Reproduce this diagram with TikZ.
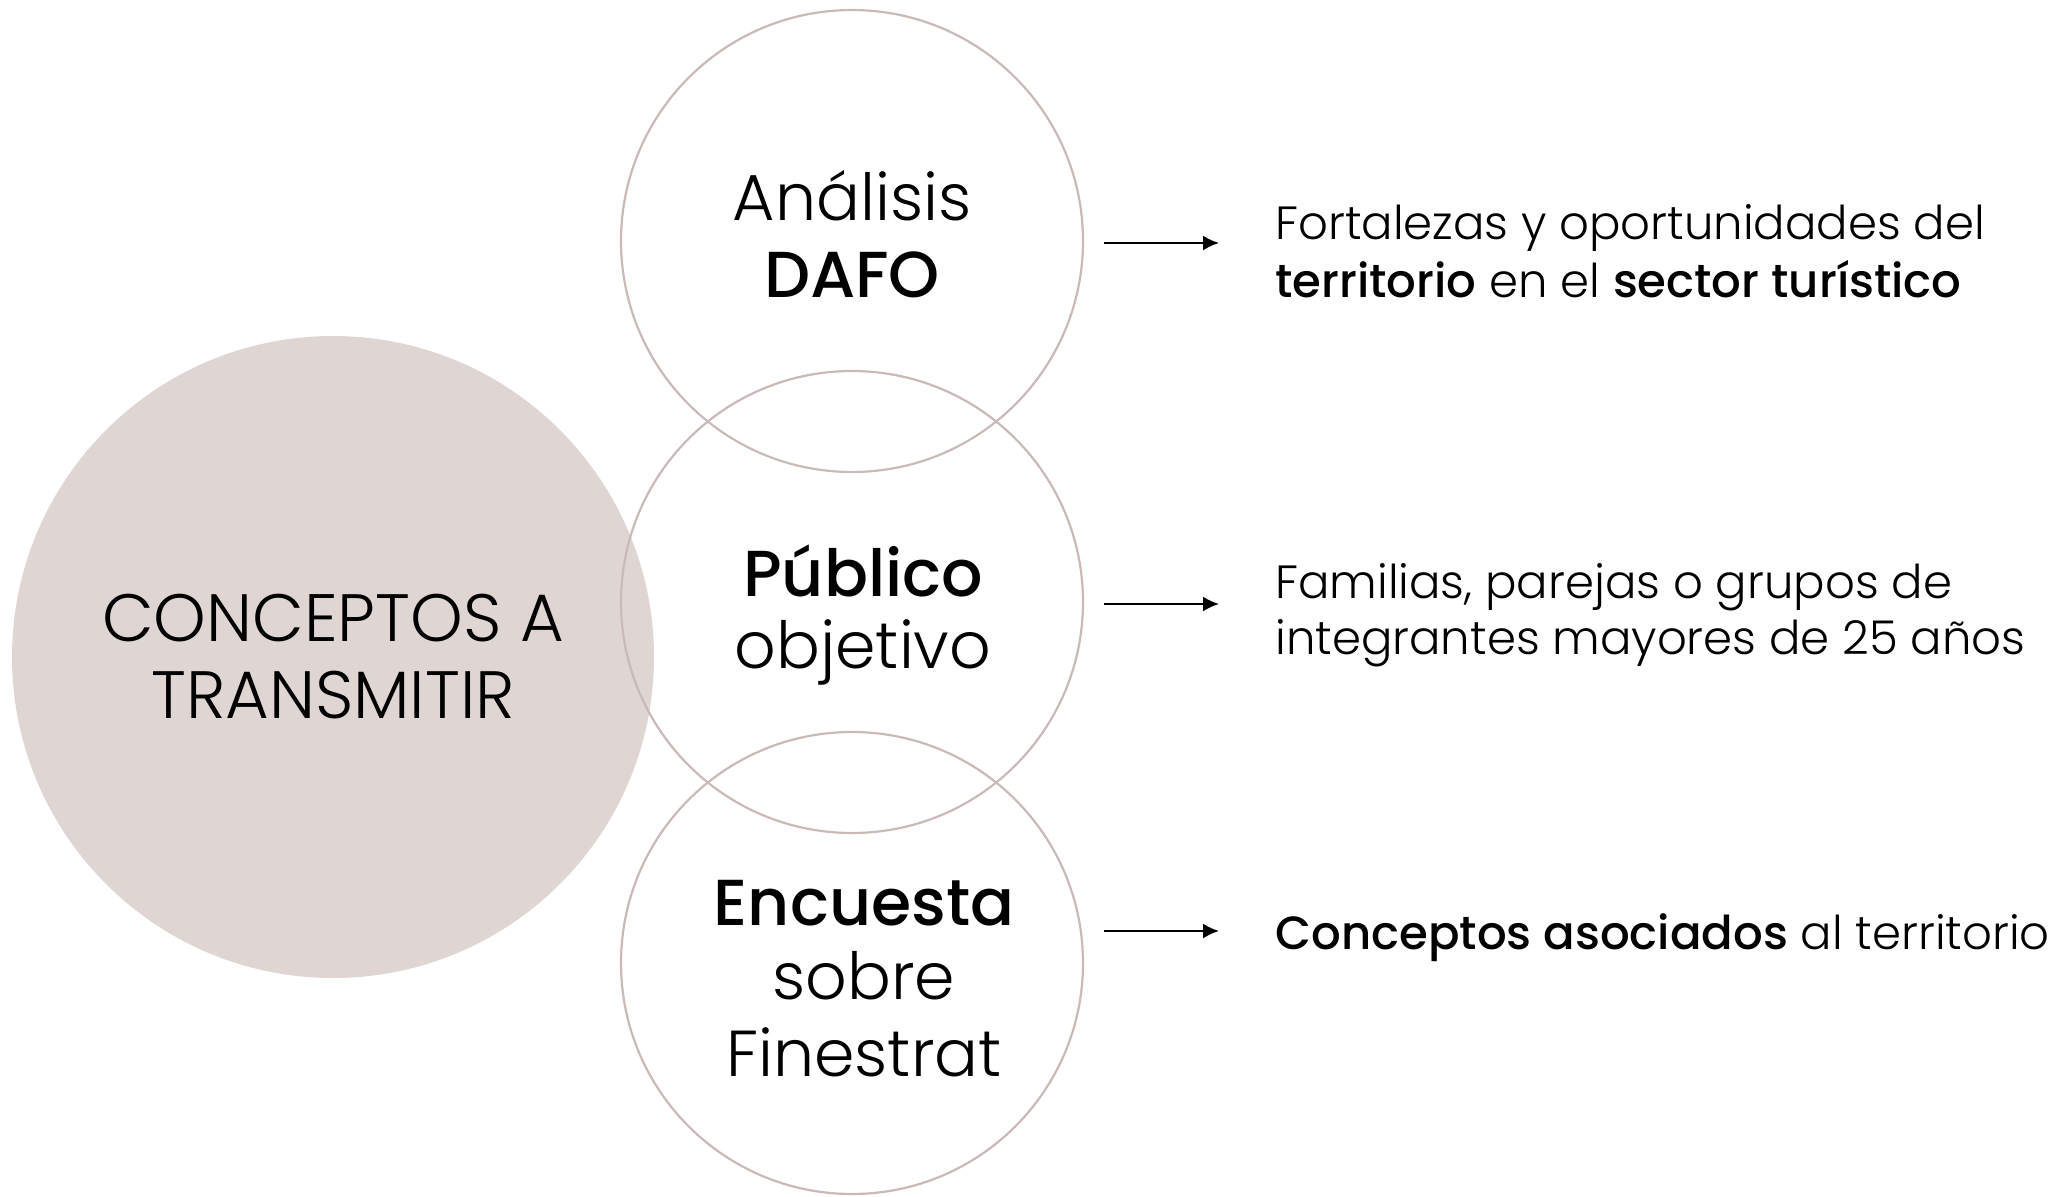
\documentclass[tikz,border=0pt]{standalone}
\usepackage{fontspec}
\setmainfont{Poppins}[UprightFont=* Light, BoldFont=* Medium]
\usetikzlibrary{arrows.meta}
\definecolor{fillc}{HTML}{DFD6D4}
\definecolor{linec}{HTML}{C9BAB7}
\tikzset{
  bigc/.style={circle, fill=fillc, draw=none, minimum size=321pt, inner sep=0pt},
  ringc/.style={circle, draw=linec, line width=1.1pt, minimum size=231pt, inner sep=0pt},
  ctext/.style={anchor=base, font=\fontsize{32.5}{40}\selectfont, inner sep=0pt},
  btext/.style={anchor=base, font=\fontsize{33.5}{40}\selectfont, inner sep=0pt},
  rtext/.style={anchor=base west, font=\fontsize{23.3}{30}\selectfont, inner sep=0pt},
  arr/.style={-{Latex[length=8pt,width=7.5pt]}, line width=1pt, black},
}
\begin{document}
\begin{tikzpicture}[x=0.5pt,y=-0.5pt]
\useasboundingbox (0,0) rectangle (2062,1196);
\node[bigc] (big) at (333,657) {};
\node[ringc] (c1) at (852,241) {};
\node[ringc] (c2) at (852,602) {};
\node[ringc] (c3) at (852,963) {};
\node[btext] (b1) at (333,641) {CONCEPTOS A};
\node[btext] (b2) at (333,718) {TRANSMITIR};
\node[ctext] (t1a) at (852,220) {Análisis};
\node[ctext] (t1b) at (852,297) {\textbf{DAFO}};
\node[ctext] (t2a) at (863,596) {\textbf{Público}};
\node[ctext] (t2b) at (863,668) {objetivo};
\node[ctext] (t3a) at (864,925) {\textbf{Encuesta}};
\node[ctext] (t3b) at (864,999) {sobre};
\node[ctext] (t3c) at (864,1076) {Finestrat};
\coordinate (a1s) at (1104,243); \coordinate (a1e) at (1219,243);
\coordinate (a2s) at (1104,604); \coordinate (a2e) at (1219,604);
\coordinate (a3s) at (1104,931); \coordinate (a3e) at (1219,931);
\draw[arr] (a1s) -- (a1e);
\draw[arr] (a2s) -- (a2e);
\draw[arr] (a3s) -- (a3e);
\node[rtext] (r1a) at (1275,239) {Fortalezas y oportunidades del};
\node[rtext] (r1b) at (1275,297) {\textbf{territorio} en el \textbf{sector turístico}};
\node[rtext] (r2a) at (1275,598) {Familias, parejas o grupos de};
\node[rtext] (r2b) at (1275,654) {integrantes mayores de 25 años};
\node[rtext] (r3a) at (1275,949) {\textbf{Conceptos asociados} al territorio};
\end{tikzpicture}
\end{document}
